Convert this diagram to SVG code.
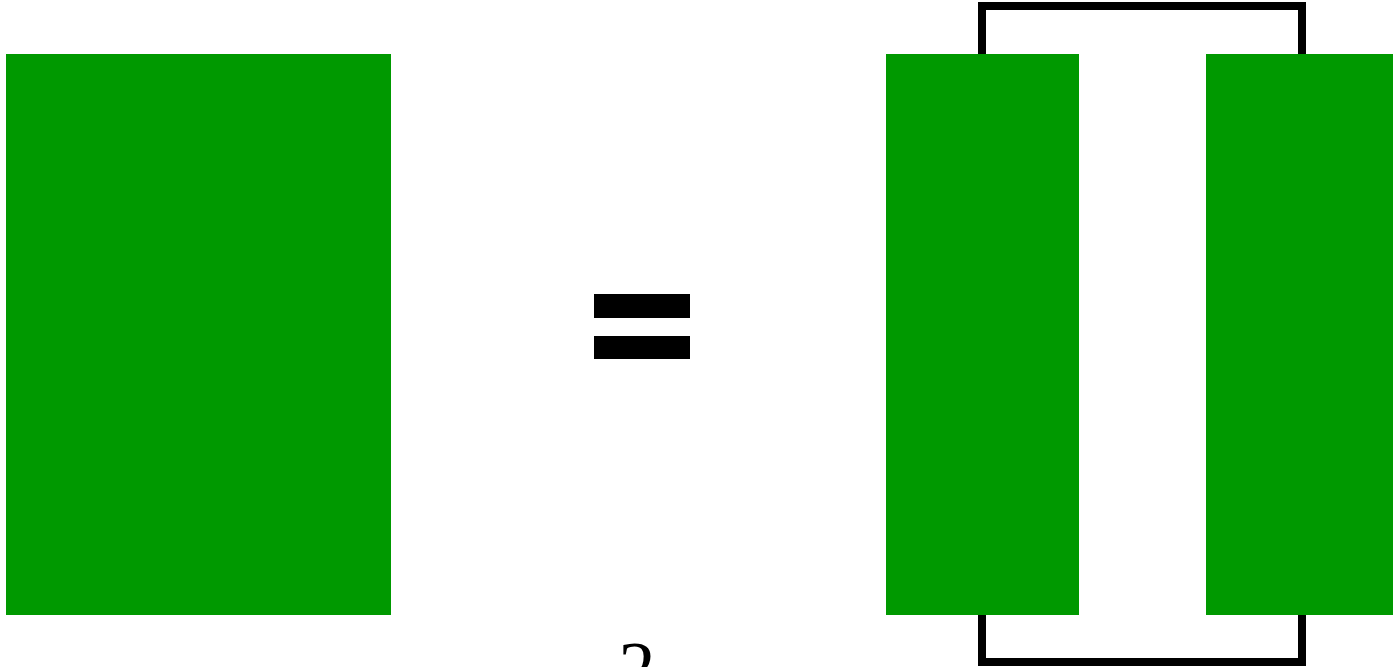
<svg xmlns="http://www.w3.org/2000/svg" width="1393" height="667" viewBox="0 0 1393 667">
<style>
.blk{fill:#009900}
.br{fill:none;stroke:#000;stroke-width:8;stroke-linejoin:miter}
.eq{fill:#000}
</style>
<rect width="1393" height="667" fill="#fff"/>
<g id="left-block"><rect class="blk" x="6" y="54" width="385" height="561"/></g>
<g id="equals"><rect class="eq" x="594" y="294" width="96" height="24"/><rect class="eq" x="594" y="336" width="96" height="23"/></g>
<g id="label-2"><text x="637" y="693" font-family="Liberation Serif, serif" font-size="74" text-anchor="middle" fill="#000">2</text></g>
<g id="right-block-a"><rect class="blk" x="886" y="54" width="193" height="561"/></g>
<g id="right-block-b"><rect class="blk" x="1206" y="54" width="187" height="561"/></g>
<g id="connectors">
<path class="br" d="M982 54 V6 H1302 V54"/>
<path class="br" d="M982 615 V662 H1302 V615"/>
</g>
</svg>
